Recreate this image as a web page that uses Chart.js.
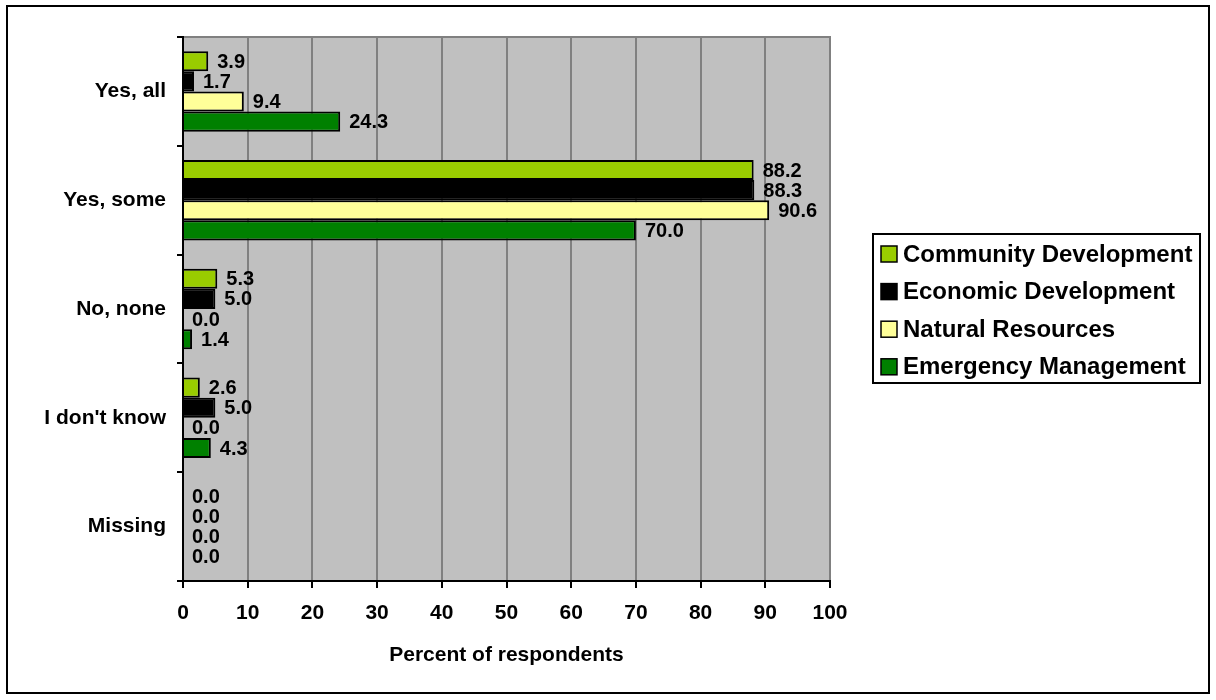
<!DOCTYPE html>
<html>
<head>
<meta charset="utf-8">
<script src="https://cdn.jsdelivr.net/npm/chart.js@4/dist/chart.umd.min.js"></script>
<style>
  html, body { margin: 0; padding: 0; background: #fff; }
  canvas { display: block; }
</style>
</head>
<body>
<canvas id="chart" width="1216" height="700"></canvas>
<script>
// Categories and series (percent of respondents)
const categories = ['Yes, all', 'Yes, some', 'No, none', "I don't know", 'Missing'];
const communityDev = [3.9, 88.2, 5.3, 2.6, 0.0];
const economicDev = [1.7, 88.3, 5.0, 5.0, 0.0];
const naturalRes = [9.4, 90.6, 0.0, 0.0, 0.0];
const emergencyMgmt = [24.3, 70.0, 1.4, 4.3, 0.0];
const xTicks = [0, 10, 20, 30, 40, 50, 60, 70, 80, 90, 100];

const FONT = 'Liberation Sans, Arial, sans-serif';

// Plot background, outer frame, top/right gray edge
const frame = {
    id: 'frame',
    beforeDraw: (chart) => {
        const { ctx, chartArea: a } = chart;
        ctx.save();
        ctx.fillStyle = '#fff';
        ctx.fillRect(0, 0, chart.width, chart.height);
        ctx.strokeStyle = '#000';
        ctx.lineWidth = 2;
        ctx.strokeRect(7, 6, 1202, 687);
        ctx.fillStyle = '#c0c0c0';
        ctx.fillRect(a.left, a.top, a.right - a.left, a.bottom - a.top);
        ctx.strokeStyle = '#808080';
        ctx.beginPath();
        ctx.moveTo(a.left, a.top);
        ctx.lineTo(a.right, a.top);
        ctx.lineTo(a.right, a.bottom);
        ctx.stroke();
        ctx.restore();
    }
};

// Value labels at bar ends
const valueLabels = {
    id: 'valueLabels',
    afterDatasetsDraw: (chart) => {
        const { ctx } = chart;
        ctx.save();
        ctx.font = 'bold 20px ' + FONT;
        ctx.fillStyle = '#000';
        ctx.textAlign = 'left';
        ctx.textBaseline = 'middle';
        chart.data.datasets.forEach((ds, i) => {
            chart.getDatasetMeta(i).data.forEach((bar, j) => {
                ctx.fillText(ds.data[j].toFixed(1), bar.x + 9, bar.y + 1);
            });
        });
        ctx.restore();
    }
};

// Boxed legend on the right
const boxLegend = {
    id: 'boxLegend',
    afterDraw: (chart) => {
        const { ctx } = chart;
        const x0 = 873, y0 = 234, w = 327, h = 149;
        ctx.save();
        ctx.fillStyle = '#fff';
        ctx.fillRect(x0, y0, w, h);
        ctx.strokeStyle = '#000';
        ctx.lineWidth = 2;
        ctx.strokeRect(x0, y0, w, h);
        ctx.font = 'bold 24px ' + FONT;
        ctx.textBaseline = 'middle';
        chart.data.datasets.forEach((ds, i) => {
            const cy = 254 + i * 37.6;
            ctx.fillStyle = ds.backgroundColor;
            ctx.fillRect(881, cy - 8, 16, 16);
            ctx.lineWidth = 1.5;
            ctx.strokeRect(881, cy - 8, 16, 16);
            ctx.fillStyle = '#000';
            ctx.fillText(ds.label, 903, cy + 1);
        });
        ctx.restore();
    }
};

const makeSet = (label, data, color) => ({
    label: label,
    data: data,
    backgroundColor: color,
    borderColor: '#000',
    borderWidth: 2,
    barPercentage: 1.0,
    categoryPercentage: 0.74
});

new Chart(document.getElementById('chart'), {
    type: 'bar',
    data: {
        labels: categories,
        datasets: [
            makeSet('Community Development', communityDev, '#99cc00'),
            makeSet('Economic Development', economicDev, '#000000'),
            makeSet('Natural Resources', naturalRes, '#ffff99'),
            makeSet('Emergency Management', emergencyMgmt, '#008000')
        ]
    },
    options: {
        indexAxis: 'y',
        responsive: false,
        animation: false,
        layout: { padding: { top: 37, right: 386, bottom: 0, left: 0 } },
        plugins: {
            legend: { display: false },
            tooltip: { enabled: false }
        },
        scales: {
            x: {
                min: 0,
                max: 100,
                afterFit: (scale) => { scale.height = 119; },
                afterBuildTicks: (scale) => { scale.ticks = xTicks.map(v => ({ value: v })); },
                ticks: {
                    color: '#000',
                    padding: 13,
                    font: { family: FONT, size: 21, weight: 'bold' }
                },
                grid: {
                    color: '#808080',
                    tickColor: '#000',
                    lineWidth: 2,
                    tickLength: 7
                },
                border: { color: '#000', width: 2 },
                title: {
                    display: true,
                    text: 'Percent of respondents',
                    color: '#000',
                    padding: { top: 0, bottom: 32 },
                    font: { family: FONT, size: 21, weight: 'bold' }
                }
            },
            y: {
                afterFit: (scale) => { scale.width = 183; },
                ticks: {
                    color: '#000',
                    padding: 11,
                    font: { family: FONT, size: 21, weight: 'bold' }
                },
                grid: {
                    offset: true,
                    drawOnChartArea: false,
                    color: '#000',
                    lineWidth: 2,
                    tickLength: 6
                },
                border: { color: '#000', width: 2 }
            }
        }
    },
    plugins: [frame, valueLabels, boxLegend]
});
</script>
</body>
</html>
